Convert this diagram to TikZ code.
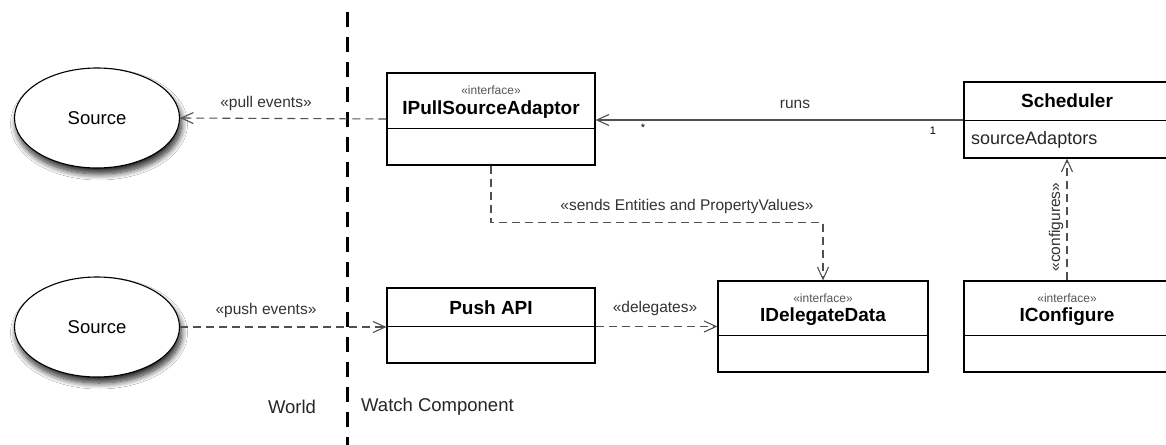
\documentclass[tikz,border=0pt]{standalone}
\usepackage{fontspec}
\setmainfont{Liberation Sans}
\usetikzlibrary{arrows.meta,shadows.blur,shapes.geometric}
\definecolor{edgegray}{HTML}{505050}
\definecolor{labgray}{HTML}{333333}
\definecolor{stereogray}{HTML}{555555}
\newcommand{\fsz}[1]{\fontsize{#1}{#1}\selectfont}
\tikzset{
  srcell/.style={ellipse, draw=black, line width=1.1pt, fill=white, minimum width=165pt, minimum height=100pt, inner sep=0pt,
    blur shadow={shadow xshift=2pt, shadow yshift=-6pt, shadow blur radius=6pt, shadow opacity=85, shadow blur steps=10}, font=\fsz{18.5}},
  clsbox/.style={draw=black, line width=1.2pt, fill=white, inner sep=0pt},
  divline/.style={draw=black, line width=1.2pt},
  cname/.style={font=\bfseries\fsz{19}, inner sep=0pt, text=black},
  stereo/.style={font=\fsz{12}, inner sep=0pt, text=stereogray},
  attr/.style={font=\fsz{18}, inner sep=0pt, anchor=west, text=black!85},
  lab/.style={font=\fsz{15.5}, inner sep=0pt, text=labgray},
  mult/.style={font=\fsz{11}, inner sep=0pt, text=black},
  deparrow/.style={draw=edgegray, line width=1.1pt, dash pattern=on 8pt off 5pt, -{Straight Barb[length=12pt,width=11pt,line width=1.1pt]}},
  assocarrow/.style={draw=edgegray, line width=1.1pt, -{Straight Barb[length=12pt,width=11pt,line width=1.1pt]}},
  boundary/.style={draw=black, line width=3pt, dash pattern=on 15pt off 10pt},
  world/.style={font=\fsz{18.5}, inner sep=0pt, text=black!85}
}
\begin{document}
\begin{tikzpicture}[x=1pt,y=-1pt]
\clip (0,0) rectangle (1166,444);
\fill[white] (0,0) rectangle (1166,444);

% boundary
\coordinate (btop) at (347,12);
\coordinate (bbot) at (347,450);
\draw[boundary] (btop) -- (bbot);
\node[world] (worldlab) at (292,407) {World};
\node[world, anchor=west] (watchlab) at (361,407) {Watch Component};

% sources
\node[srcell] (src1) at (97,118) {Source};
\node[srcell] (src2) at (97,327) {Source};

% IPullSourceAdaptor
\node[clsbox, minimum width=208pt, minimum height=92pt] (ipull) at (491,119) {};
\draw[divline] ([yshift=-56pt]ipull.north west) -- ([yshift=-56pt]ipull.north east);
\node[stereo] (ipulls) at (491,90) {«interface»};
\node[cname] (ipulln) at (491,110) {IPullSourceAdaptor};

% Push API
\node[clsbox, minimum width=208pt, minimum height=75pt] (push) at (491,325.5) {};
\draw[divline] ([yshift=-39pt]push.north west) -- ([yshift=-39pt]push.north east);
\node[cname] (pushn) at (491,308) {Push API};

% IDelegateData
\node[clsbox, minimum width=210pt, minimum height=91pt] (idel) at (823,326.5) {};
\draw[divline] ([yshift=-55pt]idel.north west) -- ([yshift=-55pt]idel.north east);
\node[stereo] (idels) at (823,298) {«interface»};
\node[cname] (ideln) at (823,317) {IDelegateData};

% Scheduler
\node[clsbox, minimum width=206pt, minimum height=76pt] (sched) at (1067,120) {};
\draw[divline] ([yshift=-39pt]sched.north west) -- ([yshift=-39pt]sched.north east);
\node[cname] (schedn) at (1067,101) {Scheduler};
\node[attr] (scheda) at (971,140) {sourceAdaptors};

% IConfigure
\node[clsbox, minimum width=206pt, minimum height=91pt] (iconf) at (1067,326.5) {};
\draw[divline] ([yshift=-55pt]iconf.north west) -- ([yshift=-55pt]iconf.north east);
\node[stereo] (iconfs) at (1067,298) {«interface»};
\node[cname] (iconfn) at (1067,317) {IConfigure};

% connectors
\draw[deparrow] (ipull.west) -- (src1.east);
\node[lab] (pulllab) at (266,103) {«pull events»};

\draw[deparrow] (src2.east) -- (push.west |- src2.east);
\node[lab] (pushlab) at (266,310) {«push events»};

\draw[assocarrow] (sched.west) -- (ipull.east |- sched.west);
\node[lab] (runslab) at (795,104) {runs};
\node[mult] (multstar) at (643,128) {*};
\node[mult] (multone) at (933,131) {1};

\draw[deparrow] (ipull.south) -- ++(0,57) -| (idel.north);
\node[lab] (sendslab) at (687,206) {«sends Entities and PropertyValues»};

\draw[deparrow] (push.east |- idel.west) -- (idel.west);
\node[lab] (delegatelab) at (655,308) {«delegates»};

\draw[deparrow] (iconf.north) -- (sched.south);
\node[lab, rotate=90] (configlab) at (1056,227) {«configures»};
\end{tikzpicture}
\end{document}
